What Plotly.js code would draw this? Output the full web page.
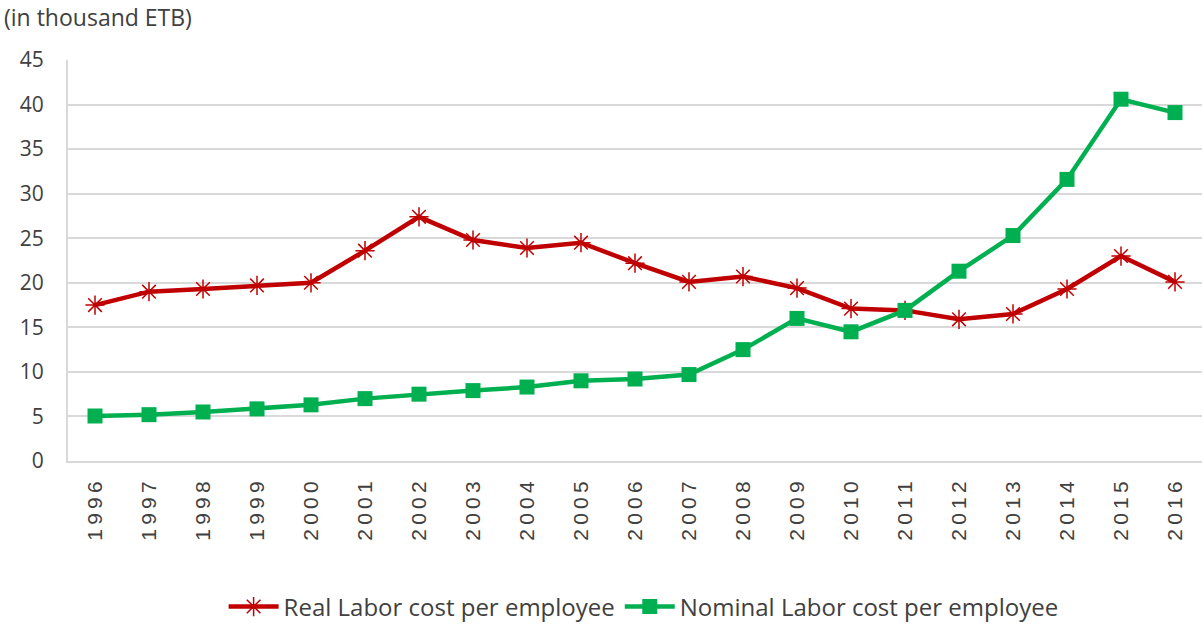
<!DOCTYPE html>
<html><head><meta charset="utf-8">
<script src="https://cdn.plot.ly/plotly-3.0.1.min.js"></script>
<style>body{margin:0;background:#fff}#c{width:1203px;height:627px}</style>
</head><body><div id="c"></div>
<script>
const years = ['1996','1997','1998','1999','2000','2001','2002','2003','2004','2005','2006','2007','2008','2009','2010','2011','2012','2013','2014','2015','2016'];
const realCost = [17.5,19.0,19.3,19.7,20.0,23.6,27.4,24.8,23.9,24.5,22.2,20.1,20.7,19.4,17.1,16.9,15.9,16.5,19.3,23.0,20.1];
const nominalCost = [5.05,5.2,5.5,5.85,6.3,7.0,7.5,7.9,8.3,9.0,9.2,9.7,12.5,16.0,14.5,16.9,21.3,25.3,31.6,40.6,39.1];
const seriesNames = ['Real Labor cost per employee','Nominal Labor cost per employee'];
const yTicks = [0,5,10,15,20,25,30,35,40,45];
const yearLabels = years.map(y => y.split('').join('\u2009'));

const traces = [
  {x: years, y: realCost, name: seriesNames[0], type:'scatter', mode:'lines+markers',
   line:{color:'#C00000', width:4.5}, marker:{symbol:'asterisk-open', size:16, color:'#C00000', line:{color:'#C00000', width:1.5}}},
  {x: years, y: nominalCost, name: seriesNames[1], type:'scatter', mode:'lines+markers',
   line:{color:'#00B050', width:4.5}, marker:{symbol:'square', size:15, color:'#00B050'}}
];
const layout = {
  width:1203, height:627,
  margin:{l:68, r:1, t:60, b:166, autoexpand:false},
  paper_bgcolor:'#fff', plot_bgcolor:'#fff',
  font:{family:'"Open Sans", sans-serif', color:'#404040'},
  showlegend:true,
  legend:{orientation:'h', xref:'container', yref:'container', x:0.535, xanchor:'center', y:0.032, yanchor:'middle',
          font:{size:24, color:'#404040'}, traceorder:'normal', itemwidth:50},
  xaxis:{type:'category', range:[-0.5,20.5], tickangle:-90, showgrid:false, showline:true, linecolor:'#d9d9d9', linewidth:2,
         tickmode:'array', tickvals:years, ticktext:yearLabels, automargin:false,
         ticks:'', tickfont:{family:'"Liberation Sans", Arial, sans-serif', size:21, color:'#404040'}, ticklabelstandoff:10},
  yaxis:{range:[0,45], tickvals:yTicks, showgrid:true, gridcolor:'#d9d9d9', gridwidth:2, zeroline:false, automargin:false,
         showline:true, linecolor:'#d9d9d9', linewidth:2, ticks:'', tickfont:{size:21, color:'#404040'}, ticklabelstandoff:18},
  annotations:[{text:'(in thousand ETB)', xref:'paper', yref:'paper', x:-0.058, y:1.108, xanchor:'left', yanchor:'middle', showarrow:false, font:{size:23, color:'#404040'}}]
};
Plotly.newPlot('c', traces, layout, {displayModeBar:false});
</script></body></html>
